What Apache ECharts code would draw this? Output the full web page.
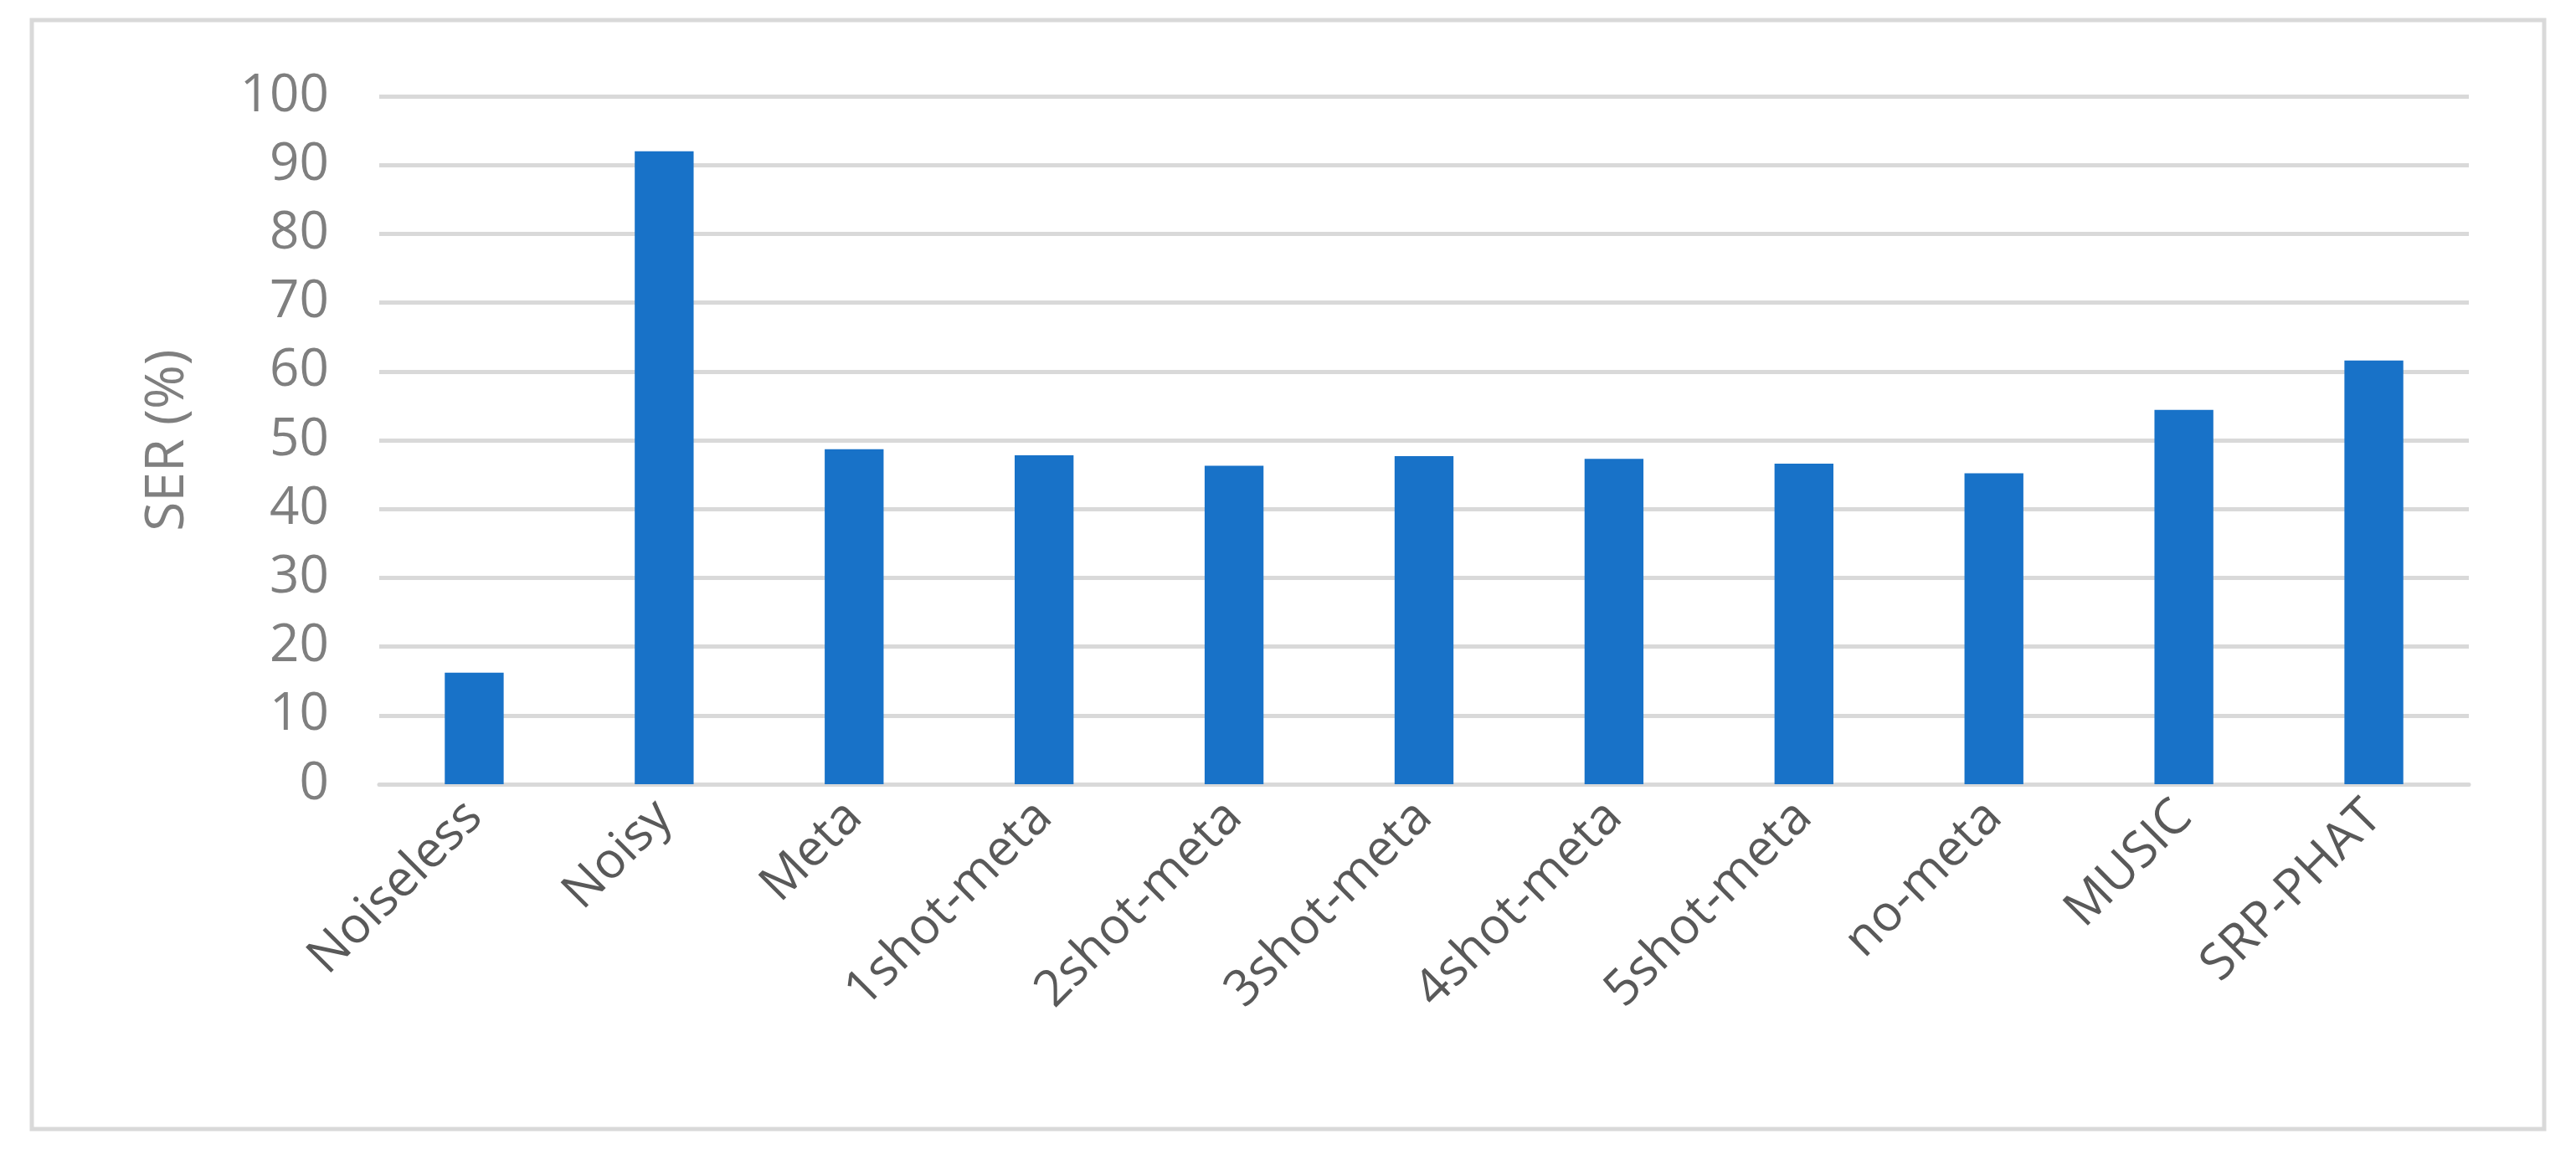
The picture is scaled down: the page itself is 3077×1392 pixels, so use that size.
<!DOCTYPE html>
<html><head><meta charset="utf-8">
<script src="https://cdn.jsdelivr.net/npm/echarts@6/dist/echarts.min.js"></script>
<style>html,body{margin:0;padding:0;background:#fff}#c{width:3077px;height:1392px}</style>
</head><body><div id="c"></div>
<script>
const categories = ['Noiseless','Noisy','Meta','1shot-meta','2shot-meta','3shot-meta','4shot-meta','5shot-meta','no-meta','MUSIC','SRP-PHAT'];
const serValues = [16.2, 92.0, 48.7, 47.8, 46.3, 47.7, 47.3, 46.6, 45.2, 54.4, 61.6];
const chart = echarts.init(document.getElementById('c'));
chart.setOption({
  animation: false,
  graphic: [{type:'rect', shape:{x:38,y:24,width:3001,height:1325}, style:{fill:'none', stroke:'#d9d9d9', lineWidth:5}}],
  grid: {left:453, right:128, top:115, bottom:455},
  xAxis: {type:'category', data:categories,
    axisLine:{lineStyle:{color:'#d9d9d9', width:5}}, axisTick:{show:false},
    axisLabel:{rotate:45, fontSize:60, color:'#595959', fontFamily:'Open Sans', margin:30, interval:0}},
  yAxis: {type:'value', min:0, max:100, interval:10, name:'SER (%)', nameLocation:'middle', nameGap:220,
    nameTextStyle:{fontSize:64, color:'#7f7f7f', fontFamily:'Open Sans'},
    axisLine:{show:false}, axisTick:{show:false},
    axisLabel:{fontSize:62, color:'#7f7f7f', fontFamily:'Open Sans', margin:60},
    splitLine:{lineStyle:{color:'#d9d9d9', width:5}}},
  series: [{type:'bar', data:serValues, barWidth:'31%', itemStyle:{color:'#1872c8'}}]
});
</script></body></html>
